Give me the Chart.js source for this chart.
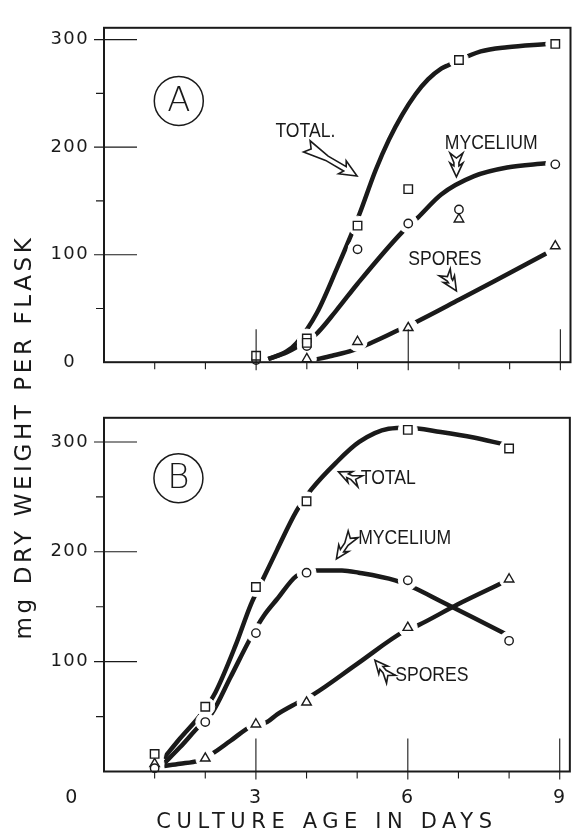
<!DOCTYPE html>
<html>
<head>
<meta charset="utf-8">
<script src="https://cdn.jsdelivr.net/npm/chart.js@4/dist/chart.umd.min.js"></script>
<style>
  html, body { margin:0; padding:0; background:#fff; }
  body { width:581px; height:833px; position:relative; overflow:hidden; }
  canvas { position:absolute; left:0; }
  #ytitle { position:absolute; left:-227px; top:422px; width:500px; height:30px; line-height:30px;
            text-align:center; transform:rotate(-90deg); font-family:'DejaVu Sans', sans-serif;
            font-size:23px; letter-spacing:3.6px; color:#1a1a1a; white-space:nowrap; }
  #xtitle { position:absolute; left:77px; top:806px; width:500px; height:30px; line-height:30px;
            text-align:center; font-family:'DejaVu Sans', sans-serif; font-size:21px;
            letter-spacing:5.6px; color:#1a1a1a; white-space:nowrap; }
</style>
</head>
<body>
<canvas id="cA" width="581" height="390" style="top:0px"></canvas>
<canvas id="cB" width="581" height="443" style="top:390px"></canvas>
<div id="ytitle">mg DRY WEIGHT PER FLASK</div>
<div id="xtitle">CULTURE AGE IN DAYS</div>
<script>
// ---------- tick values ----------
const DAY_LABEL_TICKS = [0, 3, 6, 9];
const DAY_MAJOR_TICKS = [3, 6, 9];
const DAY_MINOR_TICKS = [1, 2, 4, 5, 7, 8];
const MG_LABEL_TICKS_A = [0, 100, 200, 300];
const MG_LABEL_TICKS_B = [100, 200, 300];
const MG_MAJOR_TICKS = [100, 200, 300];
const MG_MINOR_TICKS = [50, 150, 250];

// ---------- Panel A : measured points [day, mg] ----------
const A_TOTAL_PTS = [[3, 6], [4, 22], [4, 18], [5, 127], [6, 161], [7, 281], [8.9, 296]];
const A_MYCEL_PTS = [[3, 2], [4, 15], [5, 105], [6, 129], [7, 142], [8.9, 184]];
const A_SPORE_PTS = [[4, 3], [5, 19], [6, 32], [7, 133], [8.9, 108]];
// Panel A : drawn fitted curves
const A_TOTAL_CURVE = [[3.24, 3], [3.6, 10], [3.8, 18], [4.2, 46], [4.6, 88], [4.87, 118], [5.04, 138], [5.36, 179],
  [5.62, 207], [5.88, 230], [6.14, 249], [6.39, 263], [6.65, 273], [6.78, 276], [7.43, 289], [7.95, 293], [8.73, 296]];
const A_MYCEL_CURVE = [[3.24, 3], [3.6, 9], [3.8, 14], [4.16, 25], [4.58, 48], [5.0, 73], [5.88, 121], [6.2, 135],
  [6.65, 156], [7.3, 173], [7.95, 181], [8.72, 185]];
const A_SPORE_CURVE = [[4.13, 2], [4.5, 6], [4.9, 11], [5.17, 16], [5.5, 23], [5.81, 30], [6.14, 37], [7.0, 58],
  [8.0, 83], [8.72, 101]];

// ---------- Panel B : measured points [day, mg] ----------
const B_TOTAL_PTS = [[1, 16], [2, 59], [3, 168], [4, 246], [6, 311], [8, 294]];
const B_MYCEL_PTS = [[1, 3], [2, 45], [3, 126], [4, 181], [6, 174], [8, 119]];
const B_SPORE_PTS = [[1, 7], [2, 12], [3, 43], [4, 63], [6, 131], [8, 175]];
// Panel B : drawn fitted curves
const B_TOTAL_CURVE = [[1.18, 12], [1.5, 30], [1.93, 53], [2.2, 72], [2.6, 115], [2.9, 152], [3.16, 177], [3.42, 202],
  [3.8, 237], [4.1, 257], [4.58, 281], [5.04, 300], [5.62, 312], [6.0, 313], [6.65, 309], [7.3, 304], [7.88, 298]];
const B_MYCEL_CURVE = [[1.18, 7], [1.5, 22], [1.87, 41], [2.13, 53], [2.5, 86], [2.9, 122], [3.16, 142], [3.42, 157],
  [3.8, 178], [4.2, 183], [4.7, 183], [5.03, 181], [5.75, 174], [6.13, 167], [6.65, 155], [7.3, 140], [7.94, 125]];
const B_SPORE_CURVE = [[1.18, 5], [1.5, 7], [1.87, 10], [2.13, 16], [2.5, 28], [2.9, 41], [3.22, 45], [3.42, 52],
  [3.8, 62], [4.13, 70], [5.0, 98], [5.94, 128], [6.2, 133], [6.98, 152], [7.88, 172]];

const INK = '#1a1a1a';
const TICK_FONT = { family: "'DejaVu Sans', sans-serif", size: 18 };

function xy(a) { return a.map(([x, y]) => ({ x, y })); }

function series(pts, curve, style, rad) {
  return [
    { data: xy(curve), showLine: true, borderColor: INK, borderWidth: 4.5, pointRadius: 0,
      cubicInterpolationMode: 'monotone', order: 3, borderCapStyle: 'butt' },
    { data: xy(pts), showLine: false, pointStyle: 'circle', pointRadius: 9.5,
      pointBackgroundColor: '#ffffff', pointBorderColor: '#ffffff', pointBorderWidth: 1, order: 2, clip: false },
    { data: xy(pts), showLine: false, pointStyle: style, pointRadius: rad,
      pointBackgroundColor: '#ffffff', pointBorderColor: INK, pointBorderWidth: 1.4, order: 1, clip: false }
  ];
}

function drawArrow(ctx, p1, p2, o) {
  const dx = p2[0] - p1[0], dy = p2[1] - p1[1], L = Math.hypot(dx, dy);
  const ux = dx / L, uy = dy / L, nx = -uy, ny = ux;
  const P = (a, b) => [p1[0] + ux * a + nx * b, p1[1] + uy * a + ny * b];
  const hl = o.headL, hw = o.headW / 2, tw = o.tailW / 2, sw = o.shaftW / 2;
  const pts = [P(0, tw), P(L * 0.4, sw), P(L - hl, sw), P(L - hl - 3, hw), P(L, 0),
               P(L - hl - 3, -hw), P(L - hl, -sw), P(L * 0.4, -sw), P(0, -tw), P(5, 0)];
  ctx.beginPath();
  pts.forEach((p, i) => i ? ctx.lineTo(p[0], p[1]) : ctx.moveTo(p[0], p[1]));
  ctx.closePath();
  ctx.fillStyle = '#fff'; ctx.fill();
  ctx.lineWidth = 1.6; ctx.strokeStyle = INK; ctx.lineJoin = 'miter'; ctx.stroke();
}

const decor = {
  id: 'decor',
  beforeDraw(chart) { chart.ctx.letterSpacing = '1.5px'; },
  afterDatasetsDraw(chart, args, opts) {
    const { ctx, chartArea: a, scales: { x, y } } = chart;
    ctx.save();
    ctx.letterSpacing = '0px';
    ctx.strokeStyle = INK;
    // frame
    ctx.lineWidth = 2;
    ctx.strokeRect(a.left, a.top, a.right - a.left, a.bottom - a.top);
    // y ticks
    ctx.lineWidth = 1.1;
    ctx.beginPath();
    MG_MAJOR_TICKS.forEach(v => { const p = y.getPixelForValue(v); ctx.moveTo(a.left - 10, p); ctx.lineTo(a.left + 33, p); });
    MG_MINOR_TICKS.forEach(v => { const p = y.getPixelForValue(v); ctx.moveTo(a.left - 8, p); ctx.lineTo(a.left, p); });
    // x ticks
    DAY_MAJOR_TICKS.forEach(d => { const p = x.getPixelForValue(d); ctx.moveTo(p, a.bottom - 33); ctx.lineTo(p, a.bottom + 8); });
    DAY_MINOR_TICKS.forEach(d => { const p = x.getPixelForValue(d); ctx.moveTo(p, a.bottom); ctx.lineTo(p, a.bottom + 7); });
    ctx.stroke();
    // circled panel letter
    const bx = x.getPixelForValue(opts.badge.x), by = y.getPixelForValue(opts.badge.y);
    ctx.lineWidth = 1.5;
    ctx.beginPath(); ctx.arc(bx, by, 24.5, 0, Math.PI * 2); ctx.stroke();
    ctx.fillStyle = INK;
    ctx.font = "300 34px 'DejaVu Sans', sans-serif";
    ctx.textAlign = 'center'; ctx.textBaseline = 'middle';
    ctx.fillText(opts.badge.text, bx, by + 1);
    // curve labels
    opts.notes.forEach(n => {
      ctx.save();
      ctx.translate(x.getPixelForValue(n.x), y.getPixelForValue(n.y));
      ctx.scale(0.88, 1);
      ctx.font = "20px 'Liberation Sans', sans-serif";
      ctx.textAlign = 'left'; ctx.textBaseline = 'middle';
      ctx.fillStyle = INK;
      ctx.fillText(n.text, 0, 0);
      ctx.restore();
    });
    // hollow arrows
    opts.arrows.forEach(r => {
      drawArrow(ctx, [x.getPixelForValue(r.from[0]), y.getPixelForValue(r.from[1])],
                     [x.getPixelForValue(r.to[0]), y.getPixelForValue(r.to[1])], r);
    });
    // origin "0" label of the shared day axis
    if (opts.originLabel) {
      ctx.fillStyle = INK;
      ctx.letterSpacing = '1.5px';
      ctx.font = "19px 'DejaVu Sans', sans-serif";
      ctx.textAlign = 'center'; ctx.textBaseline = 'middle';
      ctx.fillText('0', x.getPixelForValue(0) - 32, a.bottom + 27);
    }
    ctx.restore();
  }
};

function makePanel(id, cfg) {
  return new Chart(document.getElementById(id), {
    type: 'scatter',
    data: { datasets: [
      ...series(cfg.total, cfg.totalCurve, 'rect', 6),
      ...series(cfg.mycel, cfg.mycelCurve, 'circle', 4.2),
      ...series(cfg.spore, cfg.sporeCurve, 'triangle', 5.5)
    ] },
    options: {
      responsive: false, animation: false, events: [],
      layout: { padding: { top: cfg.padTop, right: cfg.padRight, left: 0, bottom: 0 } },
      plugins: { legend: { display: false }, tooltip: { enabled: false }, decor: cfg.decor },
      scales: {
        x: {
          type: 'linear', min: 0, max: 9.2,
          afterFit: s => { s.height = cfg.xHeight; },
          afterBuildTicks: s => { s.ticks = DAY_LABEL_TICKS.map(v => ({ value: v })); },
          grid: { display: false, drawTicks: false }, border: { display: false },
          ticks: { display: cfg.showX, font: { ...TICK_FONT, size: 19 }, color: INK, padding: 15,
                   maxRotation: 0, autoSkip: false, callback: v => (v === 0 ? '' : String(v)) }
        },
        y: {
          type: 'linear', min: 0, max: cfg.yMax,
          afterFit: s => { s.width = 104; },
          afterBuildTicks: s => { s.ticks = cfg.yTicks.map(v => ({ value: v })); },
          grid: { display: false, drawTicks: false }, border: { display: false },
          ticks: { font: TICK_FONT, color: INK, padding: 17, crossAlign: 'center', autoSkip: false }
        }
      }
    },
    plugins: [decor]
  });
}

makePanel('cA', {
  total: A_TOTAL_PTS, totalCurve: A_TOTAL_CURVE,
  mycel: A_MYCEL_PTS, mycelCurve: A_MYCEL_CURVE,
  spore: A_SPORE_PTS, sporeCurve: A_SPORE_CURVE,
  yMax: 311, yTicks: MG_LABEL_TICKS_A, padTop: 13, padRight: 3, xHeight: 16, showX: false,
  decor: {
    badge: { text: 'A', x: 1.475, y: 243 },
    notes: [
      { text: 'TOTAL.', x: 3.38, y: 214.5 },
      { text: 'MYCELIUM', x: 6.72, y: 203.3 },
      { text: 'SPORES', x: 6.0, y: 95.6 }
    ],
    arrows: [
      { from: [4.0, 200.7], to: [4.99, 173.2], tailW: 13, shaftW: 5, headW: 15, headL: 14 },
      { from: [6.95, 194.5], to: [6.95, 172.3], tailW: 13, shaftW: 5, headW: 13, headL: 11 },
      { from: [6.72, 83.6], to: [6.95, 66.3], tailW: 13, shaftW: 5, headW: 13, headL: 11 }
    ],
    originLabel: false
  }
});

makePanel('cB', {
  total: B_TOTAL_PTS, totalCurve: B_TOTAL_CURVE,
  mycel: B_MYCEL_PTS, mycelCurve: B_MYCEL_CURVE,
  spore: B_SPORE_PTS, sporeCurve: B_SPORE_CURVE,
  yMax: 322, yTicks: MG_LABEL_TICKS_B, padTop: 8, padRight: 2, xHeight: 61.5, showX: true,
  decor: {
    badge: { text: 'B', x: 1.47, y: 267 },
    notes: [
      { text: 'TOTAL', x: 5.07, y: 267 },
      { text: 'MYCELIUM', x: 5.02, y: 212.5 },
      { text: 'SPORES', x: 5.75, y: 87.5 }
    ],
    arrows: [
      { from: [5.06, 264.2], to: [4.63, 272.8], tailW: 12, shaftW: 4, headW: 12, headL: 10 },
      { from: [4.92, 216], to: [4.59, 193.5], tailW: 12, shaftW: 4, headW: 12, headL: 10 },
      { from: [5.67, 84], to: [5.35, 101.3], tailW: 12, shaftW: 4, headW: 12, headL: 10 }
    ],
    originLabel: true
  }
});
</script>
</body>
</html>
